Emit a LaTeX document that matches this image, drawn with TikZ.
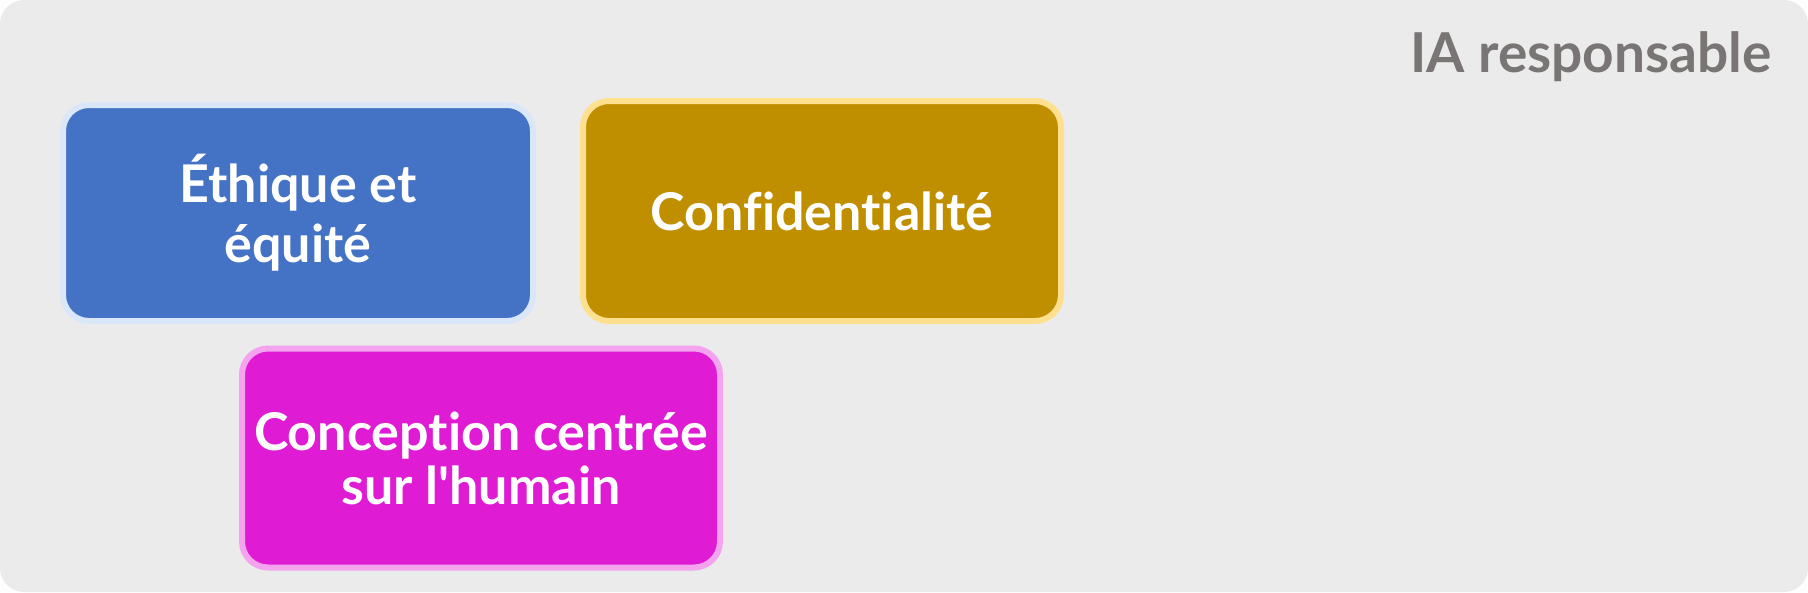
\documentclass[tikz,border=0pt]{standalone}
\usepackage{fontspec}
\setmainfont{Lato}[Ligatures=CommonOff]
\font\aposf="Lato/B" at 52pt
\definecolor{bgc}{HTML}{EBEBEB}
\definecolor{titlec}{HTML}{787574}
\definecolor{bluef}{HTML}{4472C4}
\definecolor{blueb}{HTML}{DAE7F8}
\definecolor{goldf}{HTML}{BF8F00}
\definecolor{goldb}{HTML}{FFE08F}
\definecolor{magf}{HTML}{DF1CD4}
\definecolor{magb}{HTML}{F4A4EE}
\tikzset{
  cardbox/.style={draw, line width=6pt, rounded corners=26pt, align=center,
    text=white, font=\bfseries\fontsize{52}{54}\selectfont, inner sep=0pt},
}
\begin{document}
\begin{tikzpicture}[x=1pt,y=-1pt]
\useasboundingbox (0,0) rectangle (1808,592);
\fill[bgc, rounded corners=24pt] (0,0) rectangle (1808,592);
\node[anchor=base east, text=titlec, font=\bfseries\fontsize{55}{60}\selectfont, inner sep=0pt] (title) at (1772,72) {IA responsable};
\node[cardbox, fill=bluef, draw=blueb, minimum width=470pt, minimum height=216pt, font=\bfseries\fontsize{52}{60}\selectfont] (ethique) at (298,213) {Éthique et\\équité};
\node[cardbox, fill=goldf, draw=goldb, minimum width=478pt, minimum height=220pt] (confid) at (822,211) {Confidentialité};
\node[cardbox, fill=magf, draw=magb, minimum width=478pt, minimum height=219pt] (concep) at (481,458) {Conception centrée\\sur l{\aposf'}humain};
\end{tikzpicture}
\end{document}
